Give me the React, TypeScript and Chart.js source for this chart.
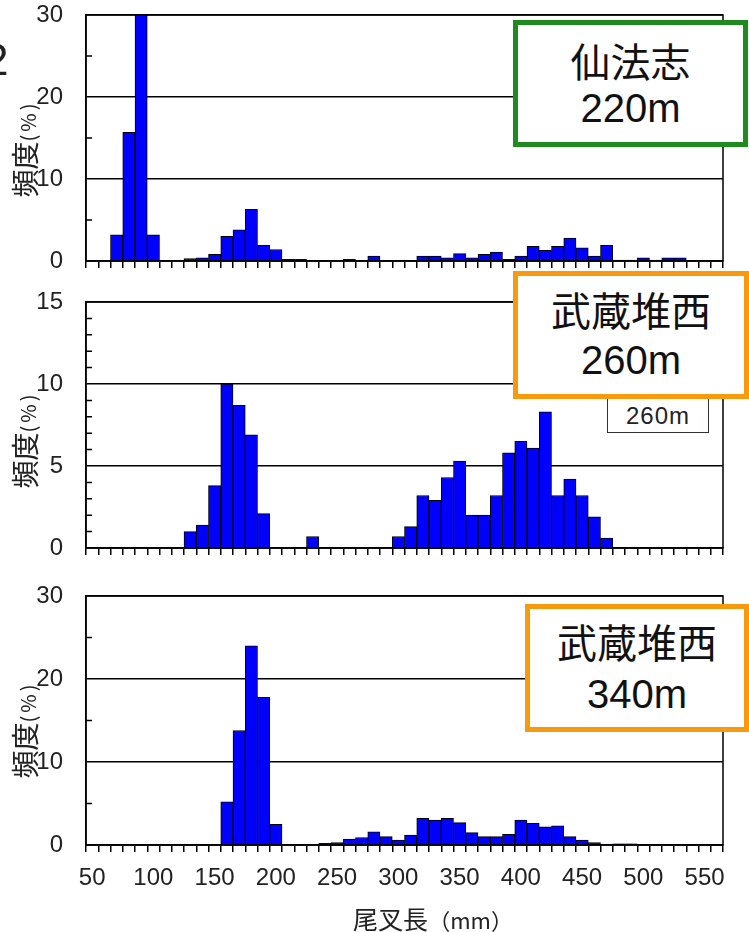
import React, { useEffect, useRef } from 'react';
import { Chart, registerables } from 'chart.js';

Chart.register(...registerables);

// Bin labels (尾叉長, mm), 10 mm bins
const xLabels = [
  '50', '60', '70', '80', '90', '100', '110', '120', '130', '140',
  '150', '160', '170', '180', '190', '200', '210', '220', '230', '240',
  '250', '260', '270', '280', '290', '300', '310', '320', '330', '340',
  '350', '360', '370', '380', '390', '400', '410', '420', '430', '440',
  '450', '460', '470', '480', '490', '500', '510', '520', '530', '540',
  '550', '560',
];

// 仙法志 220m  (頻度 %)
const senpoushi220 = [
  0, 0, 3.2, 15.7, 30, 3.2, 0, 0, 0.3, 0.4,
  0.8, 3.0, 3.8, 6.3, 1.9, 1.4, 0.2, 0.2, 0, 0,
  0, 0.2, 0, 0.6, 0, 0, 0, 0.6, 0.6, 0.4,
  0.9, 0.4, 0.8, 1.1, 0.2, 0.6, 1.8, 1.3, 1.8, 2.8,
  1.6, 0.6, 1.9, 0.1, 0.1, 0.4, 0.1, 0.4, 0.4, 0,
  0, 0,
];

// 武蔵堆西 260m
const musashi260 = [
  0, 0, 0, 0, 0, 0, 0, 0, 1.0, 1.4,
  3.8, 10.0, 8.7, 6.9, 2.1, 0, 0, 0, 0.7, 0,
  0, 0, 0, 0, 0, 0.7, 1.3, 3.2, 2.9, 4.3,
  5.3, 2.0, 2.0, 3.2, 5.8, 6.5, 6.1, 8.3, 3.2, 4.2,
  3.2, 1.9, 0.6, 0, 0, 0, 0, 0, 0, 0,
  0, 0,
];

// 武蔵堆西 340m
const musashi340 = [
  0, 0, 0, 0, 0, 0, 0, 0, 0, 0,
  0, 5.2, 13.8, 24.0, 17.8, 2.5, 0, 0, 0, 0.2,
  0.3, 0.7, 0.9, 1.6, 1.0, 0.6, 1.2, 3.2, 3.0, 3.2,
  2.7, 1.5, 1.0, 1.0, 1.3, 3.0, 2.6, 2.2, 2.3, 1.0,
  0.6, 0.3, 0.1, 0.15, 0.15, 0, 0, 0, 0, 0,
  0, 0,
];

const yMax220 = 30;
const yMax260 = 15;
const yMax340 = 30;

const NUM_FONT = "'Liberation Sans', Arial, sans-serif";
const JP_FONT = "'Noto Sans CJK JP', 'Noto Sans', sans-serif";

type PanelProps = {
  data: number[];
  yMax: number;
  yStep: number;
  minorStep: number;
  top: number;
  height: number;
  plotTop: number;
  plotBottom: number;
  showLabels: boolean;
};

function Panel(p: PanelProps) {
  const ref = useRef<HTMLCanvasElement>(null);
  useEffect(() => {
    if (!ref.current) return;
    const frame = {
      id: 'frame',
      afterDraw(chart: any) {
        const { ctx, chartArea: a } = chart;
        const ys = chart.scales.y;
        ctx.save();
        ctx.strokeStyle = '#000';
        ctx.lineWidth = 1.5;
        ctx.beginPath();
        for (let v = p.minorStep; v < p.yMax; v += p.minorStep) {
          if (Math.abs(v / p.yStep - Math.round(v / p.yStep)) < 1e-6) continue;
          const y = ys.getPixelForValue(v);
          ctx.moveTo(a.left, y);
          ctx.lineTo(a.left + 6, y);
        }
        ctx.stroke();
        ctx.strokeRect(a.left, a.top, a.right - a.left, a.bottom - a.top);
        ctx.restore();
      },
    };
    const xHeight = p.top + p.height - p.plotBottom;
    const chart = new Chart(ref.current, {
      type: 'bar',
      data: {
        labels: xLabels,
        datasets: [
          {
            data: p.data,
            backgroundColor: '#0000ff',
            borderColor: '#000000',
            borderWidth: 1,
            barPercentage: 1,
            categoryPercentage: 1,
          },
        ],
      },
      options: {
        animation: false,
        responsive: false,
        maintainAspectRatio: false,
        layout: { padding: { top: p.plotTop - p.top, right: 26, left: 0, bottom: 0 } },
        plugins: { legend: { display: false }, tooltip: { enabled: false } },
        scales: {
          x: {
            type: 'category',
            offset: true,
            grid: {
              offset: true,
              drawOnChartArea: false,
              drawTicks: true,
              tickLength: 7,
              color: '#000',
              lineWidth: 1.5,
            },
            border: { color: '#000', width: 1.5 },
            ticks: {
              autoSkip: false,
              maxRotation: 0,
              minRotation: 0,
              padding: 12,
              color: '#222',
              font: { size: 24, family: NUM_FONT },
              callback: (_v: any, i: number) => (p.showLabels && i % 5 === 0 ? xLabels[i] : ''),
            },
            afterFit: (s: any) => {
              s.height = xHeight;
            },
          },
          y: {
            min: 0,
            max: p.yMax,
            ticks: {
              stepSize: p.yStep,
              padding: 0,
              color: '#222',
              font: { size: 24, family: NUM_FONT },
            },
            grid: {
              color: '#000',
              lineWidth: 1.5,
              drawTicks: true,
              tickLength: 23,
              tickColor: 'rgba(0,0,0,0)',
            },
            border: { color: '#000', width: 1.5 },
            afterFit: (s: any) => {
              s.width = 86;
            },
          },
        },
      },
      plugins: [frame],
    } as any);
    return () => chart.destroy();
  }, []);
  return (
    <canvas
      ref={ref}
      width={749}
      height={p.height}
      style={{ position: 'absolute', left: 0, top: p.top, width: 749, height: p.height }}
    />
  );
}

function YLabel({ cy }: { cy: number }) {
  return (
    <div
      style={{
        position: 'absolute',
        left: 24,
        top: cy,
        transform: 'translate(-50%, -50%) rotate(-90deg)',
        whiteSpace: 'nowrap',
        fontFamily: JP_FONT,
        color: '#222',
        lineHeight: 1,
      }}
    >
      <span style={{ fontSize: 28 }}>頻度</span>
      <span style={{ fontSize: 20, letterSpacing: 3 }}>(%)</span>
    </div>
  );
}

function SiteBox(props: {
  left: number;
  top: number;
  width: number;
  height: number;
  color: string;
  name: string;
  depth: string;
  gap: number;
}) {
  return (
    <div
      style={{
        position: 'absolute',
        left: props.left,
        top: props.top,
        width: props.width,
        height: props.height,
        boxSizing: 'border-box',
        border: `5px solid ${props.color}`,
        background: '#fff',
        display: 'flex',
        flexDirection: 'column',
        alignItems: 'center',
        justifyContent: 'center',
        color: '#111',
        zIndex: 3,
      }}
    >
      <div style={{ fontFamily: JP_FONT, fontSize: 40, lineHeight: `${props.gap}px` }}>{props.name}</div>
      <div style={{ fontFamily: NUM_FONT, fontSize: 40, lineHeight: `${props.gap}px` }}>{props.depth}</div>
    </div>
  );
}

export default function App() {
  return (
    <div
      style={{
        position: 'absolute',
        left: 0,
        top: 0,
        width: 749,
        height: 932,
        background: '#fff',
        overflow: 'hidden',
      }}
    >
      <Panel data={senpoushi220} yMax={yMax220} yStep={10} minorStep={5} top={0} height={280} plotTop={15} plotBottom={261} showLabels={false} />
      <Panel data={musashi260} yMax={yMax260} yStep={5} minorStep={1} top={280} height={295} plotTop={302} plotBottom={548} showLabels={false} />
      <Panel data={musashi340} yMax={yMax340} yStep={10} minorStep={5} top={575} height={357} plotTop={596} plotBottom={845} showLabels={true} />

      <div
        style={{
          position: 'absolute',
          left: -16,
          top: 38,
          fontFamily: NUM_FONT,
          fontSize: 44,
          lineHeight: 1,
          color: '#222',
        }}
      >
        2
      </div>

      <YLabel cy={149} />
      <YLabel cy={440} />
      <YLabel cy={730} />

      <div
        style={{
          position: 'absolute',
          left: 433,
          top: 918,
          transform: 'translate(-50%, -50%)',
          whiteSpace: 'nowrap',
          fontFamily: JP_FONT,
          color: '#222',
          lineHeight: 1,
        }}
      >
        <span style={{ fontSize: 25 }}>尾叉長</span>
        <span style={{ fontSize: 22 }}>（mm）</span>
      </div>

      <div
        style={{
          position: 'absolute',
          left: 607,
          top: 396,
          width: 102,
          height: 37,
          boxSizing: 'border-box',
          border: '1.5px solid #333',
          background: '#fff',
          fontFamily: NUM_FONT,
          fontSize: 24,
          letterSpacing: 1,
          color: '#222',
          display: 'flex',
          alignItems: 'center',
          justifyContent: 'center',
          paddingTop: 2,
          zIndex: 2,
        }}
      >
        260m
      </div>

      <SiteBox left={513} top={20} width={235} height={127} color="#1f8a1f" name="仙法志" depth="220m" gap={48} />
      <SiteBox left={513} top={271} width={236} height={128} color="#f79a0e" name="武蔵堆西" depth="260m" gap={51} />
      <SiteBox left={525} top={604} width={224} height={128} color="#f79a0e" name="武蔵堆西" depth="340m" gap={53} />
    </div>
  );
}
